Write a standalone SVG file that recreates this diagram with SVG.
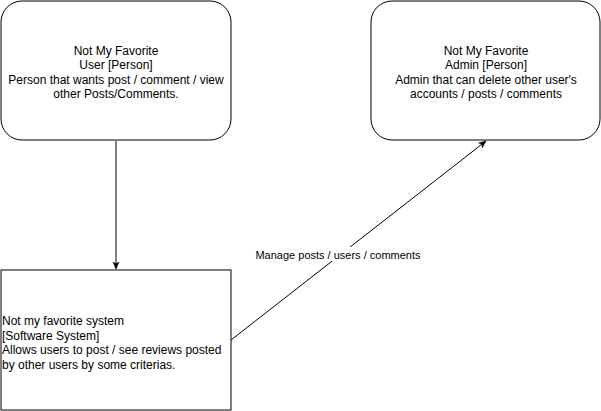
<svg xmlns="http://www.w3.org/2000/svg" width="601" height="411" viewBox="0 0 601 411">
<style>
.box{fill:#fff;stroke:#000;stroke-width:1}
.t{font-family:"Liberation Sans",Arial,sans-serif;font-size:12px;fill:#000}
.c{text-anchor:middle}
.lbl{font-family:"Liberation Sans",Arial,sans-serif;font-size:11px;fill:#000;text-anchor:middle}
.edge{fill:none;stroke:#000;stroke-width:1}
</style>
<defs>
<marker id="arr" viewBox="0 0 10 10" refX="9" refY="5" markerWidth="8" markerHeight="8" markerUnits="userSpaceOnUse" orient="auto">
<path d="M0,1 L9,5 L0,9 L2.5,5 Z" fill="#000" stroke="#000" stroke-width="0.5"/>
</marker>
</defs>
<rect width="601" height="411" fill="#fff"/>
<g id="connectors">
<path class="edge" d="M116,141 L116,269" marker-end="url(#arr)"/>
<path class="edge" d="M231,340 L486,141" marker-end="url(#arr)"/>
<rect x="255" y="247" width="167" height="14" fill="#fff"/>
<text class="lbl" x="338" y="259">Manage posts / users / comments</text>
</g>
<g id="user">
<rect class="box" x="1" y="1" width="230" height="139" rx="21" ry="21"/>
<text class="t c" x="116" y="54.5">Not My Favorite</text>
<text class="t c" x="116" y="69">User [Person]</text>
<text class="t c" x="116" y="83.5">Person that wants post / comment / view</text>
<text class="t c" x="116" y="98">other Posts/Comments.</text>
</g>
<g id="admin">
<rect class="box" x="371" y="1" width="229" height="139" rx="21" ry="21"/>
<text class="t c" x="486" y="54.5">Not My Favorite</text>
<text class="t c" x="486" y="69">Admin [Person]</text>
<text class="t c" x="486" y="83.5">Admin that can delete other user's</text>
<text class="t c" x="486" y="98">accounts / posts / comments</text>
</g>
<g id="system">
<rect class="box" x="1" y="270" width="230" height="140"/>
<text class="t" x="2" y="325">Not my favorite system</text>
<text class="t" x="2" y="339.5">[Software System]</text>
<text class="t" x="2" y="354">Allows users to post / see reviews posted</text>
<text class="t" x="2" y="368.5">by other users by some criterias.</text>
</g>
</svg>
